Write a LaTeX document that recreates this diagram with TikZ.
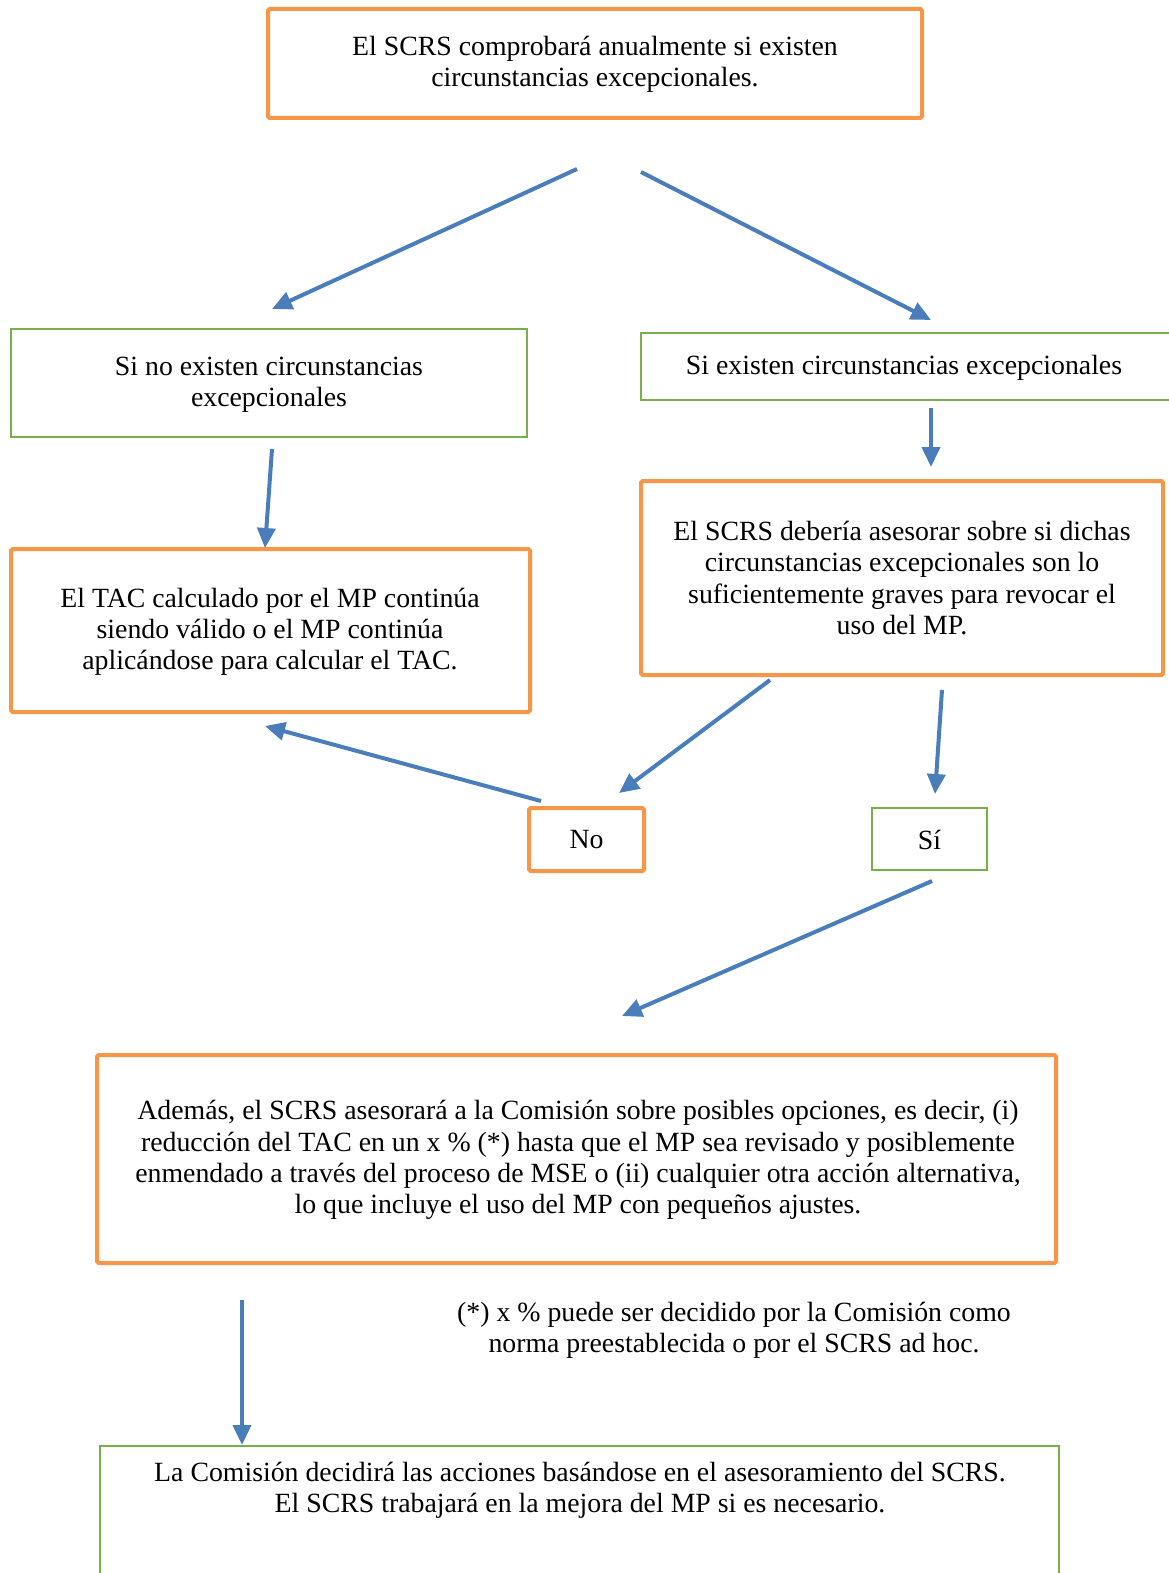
\documentclass[tikz,border=0pt]{standalone}
\usepackage{fontspec}
\setmainfont{Liberation Serif}
\usetikzlibrary{arrows.meta}
\definecolor{orng}{HTML}{F79646}
\definecolor{grn}{HTML}{77B04A}
\definecolor{blu}{HTML}{4A7EBB}
\tikzset{
  obox/.style={draw=orng, line width=2pt, rounded corners=0.8pt, fill=none, inner sep=0pt},
  gbox/.style={draw=grn, line width=1.2pt, fill=none, inner sep=0pt},
  txt/.style={align=center, inner sep=0pt, font=\fontsize{13.9}{15.6}\selectfont},
  arr/.style={draw=blu, line width=2pt, -{Triangle[length=10pt,width=9pt]}}
}
\begin{document}
\begin{tikzpicture}[x=0.5pt,y=-0.5pt]
\useasboundingbox (0,0) rectangle (1168,1573);
% boxes
\node[obox, minimum width=327pt, minimum height=54.5pt] (top) at (595,63.5) {};
\node[txt] (toptxt) at (595,64) {El SCRS comprobará anualmente si existen\\circunstancias excepcionales.};
\node[gbox, minimum width=258pt, minimum height=54pt] (noex) at (269,383) {};
\node[txt] (noextxt) at (269,385) {Si no existen circunstancias\\excepcionales};
\node[gbox, minimum width=265pt, minimum height=33.5pt] (siex) at (906,366.5) {};
\node[txt] (siextxt) at (904,368) {Si existen circunstancias excepcionales};
\node[obox, minimum width=259.5pt, minimum height=81.5pt] (tac) at (270.5,630.5) {};
\node[txt] (tactxt) at (270,632) {El TAC calculado por el MP continúa\\siendo válido o el MP continúa\\aplicándose para calcular el TAC.};
\node[obox, minimum width=261pt, minimum height=97pt] (ases) at (902,578) {};
\node[txt] (asestxt) at (902,578) {El SCRS debería asesorar sobre si dichas\\circunstancias excepcionales son lo\\suficientemente graves para revocar el\\uso del MP.};
\node[obox, minimum width=57.5pt, minimum height=31.5pt] (no) at (586.5,839.5) {};
\node[txt] (notxt) at (586.5,840) {No};
\node[gbox, minimum width=57.5pt, minimum height=31pt] (si) at (929.5,839) {};
\node[txt] (sitxt) at (929.5,840) {Sí};
\node[obox, minimum width=479.5pt, minimum height=104pt] (big) at (576.5,1159) {};
\node[txt] (bigtxt) at (578,1160) {Además, el SCRS asesorará a la Comisión sobre posibles opciones, es decir, (i)\\reducción del TAC en un x \% (*) hasta que el MP sea revisado y posiblemente\\enmendado a través del proceso de MSE o (ii) cualquier otra acción alternativa,\\lo que incluye el uso del MP con pequeños ajustes.};
\node[txt] (foot) at (734,1330) {(*) x \% puede ser decidido por la Comisión como\\norma preestablecida o por el SCRS ad hoc.};
\node[gbox, minimum width=479.5pt, minimum height=80pt, anchor=north] (fin) at (579.5,1445) {};
\node[txt] (fintxt) at (580,1490) {La Comisión decidirá las acciones basándose en el asesoramiento del SCRS.\\El SCRS trabajará en la mejora del MP si es necesario.};
% arrow end points
\coordinate (a1s) at (577,169); \coordinate (a1e) at (272,309);
\coordinate (a2s) at (641,172); \coordinate (a2e) at (931,320);
\coordinate (a3s) at (931,408); \coordinate (a3e) at (931,467);
\coordinate (a4s) at (272,449); \coordinate (a4e) at (265,548);
\coordinate (a5s) at (770,680); \coordinate (a5e) at (619,793);
\coordinate (a6s) at (942,690); \coordinate (a6e) at (935,794);
\coordinate (a7s) at (541,801); \coordinate (a7e) at (265,726);
\coordinate (a8s) at (932,881); \coordinate (a8e) at (622,1016);
\coordinate (a9s) at (242,1300); \coordinate (a9e) at (242,1445);
\draw[arr] (a1s) -- (a1e);
\draw[arr] (a2s) -- (a2e);
\draw[arr] (a3s) -- (a3e);
\draw[arr] (a4s) -- (a4e);
\draw[arr] (a5s) -- (a5e);
\draw[arr] (a6s) -- (a6e);
\draw[arr] (a7s) -- (a7e);
\draw[arr] (a8s) -- (a8e);
\draw[arr] (a9s) -- (a9e);
\end{tikzpicture}
\end{document}
